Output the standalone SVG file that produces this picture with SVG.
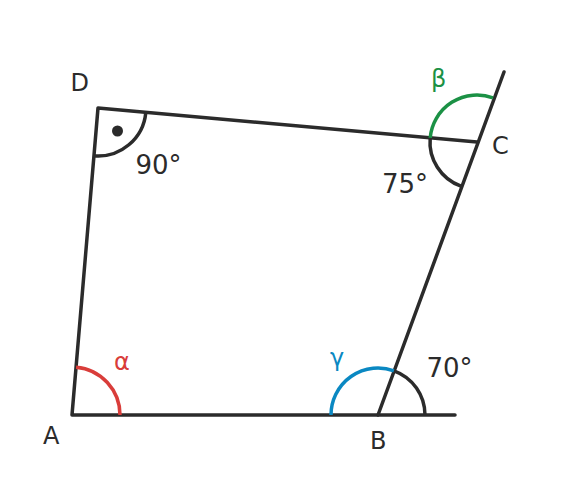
<svg xmlns="http://www.w3.org/2000/svg" width="576" height="488" viewBox="0 0 576 488">
<style>
.ln{fill:none;stroke:#2b2b2b;stroke-width:3.5;stroke-linecap:round;stroke-linejoin:round}
.arc{fill:none;stroke-width:3.5}
.k{stroke:#2b2b2b}
.r{stroke:#d93d3a}
.g{stroke:#1b9145}
.b{stroke:#0a88c2}
text{font-family:"DejaVu Sans",sans-serif;font-size:24px;fill:#2b2b2b}
text.n{font-size:26px}
.tr{fill:#d93d3a}.tg{fill:#1b9145}.tb{fill:#0a88c2}
</style>
<rect width="576" height="488" fill="#fff"/>
<g id="connectors">
<polyline class="ln" points="455,415 72,415 98,108 477,142"/>
<line class="ln" x1="378" y1="415" x2="504" y2="72"/>
</g>
<g id="A">
<path class="arc r" d="M120,415 A48,48 0 0 0 76.05,367.17"/>
<text x="43" y="444">A</text>
<text class="tr" x="114" y="370">α</text>
</g>
<g id="B">
<path class="arc b" d="M331,415 A47,47 0 0 1 394.02,370.82"/>
<path class="arc k" d="M394.02,370.82 A47,47 0 0 1 425,415"/>
<text x="370" y="449">B</text>
<text class="tb" x="330" y="366">γ</text>
<text class="n" x="426.5" y="377">70°</text>
</g>
<g id="C">
<path class="arc k" d="M430.18,137.8 A47,47 0 0 0 460.98,186.18"/>
<path class="arc g" d="M430.18,137.8 A47,47 0 0 1 493.02,97.82"/>
<text x="492" y="154">C</text>
<text class="tg" x="431" y="87">β</text>
<text class="n" x="382" y="193">75°</text>
</g>
<g id="D">
<path class="arc k" d="M145.81,112.29 A48,48 0 0 1 93.95,155.83"/>
<circle cx="117.5" cy="131" r="5.5" fill="#2b2b2b"/>
<text x="70.5" y="91">D</text>
<text class="n" x="135.5" y="174">90°</text>
</g>
</svg>
